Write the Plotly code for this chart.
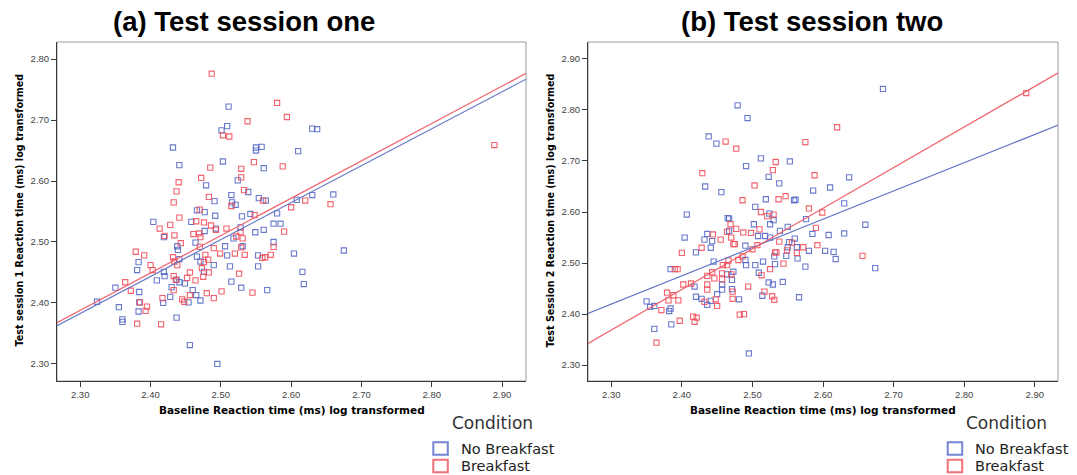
import plotly.graph_objects as go

# ---------------- data ----------------
# Panel (a): Test session one
a_nb_x = [2.511, 2.501, 2.509, 2.432, 2.441, 2.503, 2.479, 2.550, 2.558, 2.550, 2.561, 2.610, 2.524, 2.539,
          2.515, 2.491, 2.516, 2.521, 2.554, 2.564, 2.492, 2.530, 2.542, 2.580, 2.608, 2.404, 2.458, 2.466,
          2.477, 2.575, 2.585, 2.549, 2.561, 2.477, 2.493, 2.528, 2.630, 2.637, 2.630, 2.660,
          2.350, 2.355, 2.360, 2.360, 2.383, 2.381, 2.384, 2.384, 2.383, 2.409, 2.418, 2.419, 2.420, 2.419,
          2.428, 2.430, 2.437, 2.441, 2.438, 2.439, 2.441, 2.437, 2.449, 2.454, 2.456, 2.495, 2.460, 2.465,
          2.471, 2.464, 2.466, 2.471, 2.476, 2.490, 2.506, 2.518, 2.531, 2.515, 2.509, 2.513, 2.529, 2.553,
          2.575, 2.604, 2.675, 2.553, 2.616, 2.618, 2.566, 2.324]
a_nb_y = [2.722, 2.683, 2.690, 2.655, 2.626, 2.632, 2.593, 2.655, 2.656, 2.650, 2.621, 2.649, 2.601, 2.582,
          2.577, 2.567, 2.565, 2.561, 2.572, 2.568, 2.543, 2.542, 2.546, 2.547, 2.569, 2.533, 2.533, 2.552,
          2.549, 2.530, 2.530, 2.516, 2.520, 2.518, 2.522, 2.524, 2.686, 2.685, 2.577, 2.578,
          2.425, 2.393, 2.373, 2.369, 2.467, 2.454, 2.418, 2.401, 2.386, 2.437, 2.400, 2.451, 2.444, 2.508,
          2.410, 2.426, 2.438, 2.434, 2.493, 2.487, 2.472, 2.376, 2.432, 2.401, 2.331, 2.300, 2.421, 2.413,
          2.404, 2.499, 2.476, 2.468, 2.451, 2.462, 2.493, 2.506, 2.493, 2.435, 2.478, 2.460, 2.425, 2.478,
          2.500, 2.481, 2.486, 2.460, 2.451, 2.431, 2.421, 2.402]
a_b_x = [2.487, 2.503, 2.512, 2.538, 2.580, 2.594, 2.485, 2.472, 2.440, 2.437, 2.433, 2.441, 2.470, 2.483,
         2.529, 2.529, 2.547, 2.533, 2.515, 2.548, 2.560, 2.588, 2.600, 2.590, 2.413, 2.428, 2.434, 2.465,
         2.476, 2.461, 2.469, 2.486, 2.493, 2.508, 2.528, 2.889, 2.620, 2.656,
         2.379, 2.391, 2.400, 2.403, 2.364, 2.372, 2.385, 2.395, 2.393, 2.381, 2.415, 2.417, 2.420, 2.432,
         2.434, 2.438, 2.433, 2.436, 2.433, 2.443, 2.445, 2.448, 2.456, 2.456, 2.452, 2.471, 2.470, 2.478,
         2.482, 2.476, 2.473, 2.483, 2.475, 2.464, 2.490, 2.499, 2.520, 2.529, 2.531, 2.526, 2.480, 2.490,
         2.501, 2.522, 2.545, 2.534, 2.559, 2.575, 2.563, 2.571]
a_b_y = [2.776, 2.675, 2.673, 2.698, 2.728, 2.705, 2.622, 2.605, 2.598, 2.583, 2.565, 2.540, 2.553, 2.574,
         2.620, 2.606, 2.631, 2.585, 2.559, 2.544, 2.568, 2.624, 2.557, 2.517, 2.522, 2.528, 2.511, 2.534,
         2.532, 2.513, 2.514, 2.527, 2.520, 2.522, 2.516, 2.659, 2.568, 2.562,
         2.484, 2.478, 2.462, 2.454, 2.434, 2.420, 2.401, 2.394, 2.387, 2.366, 2.365, 2.408, 2.510, 2.475,
         2.468, 2.462, 2.444, 2.438, 2.421, 2.498, 2.406, 2.402, 2.413, 2.450, 2.441, 2.508, 2.492, 2.479,
         2.471, 2.467, 2.457, 2.450, 2.443, 2.437, 2.490, 2.481, 2.481, 2.491, 2.506, 2.448, 2.416, 2.408,
         2.419, 2.509, 2.417, 2.479, 2.474, 2.492, 2.475, 2.479]

# Panel (b): Test session two
b_nb_x = [2.479, 2.493, 2.438, 2.449, 2.491, 2.512, 2.553, 2.523, 2.538, 2.433, 2.456, 2.586, 2.519, 2.559,
          2.561, 2.504, 2.524, 2.530, 2.407, 2.465, 2.467, 2.502, 2.525, 2.550, 2.539, 2.576, 2.585, 2.436,
          2.404, 2.432, 2.467, 2.508, 2.518, 2.560,
          2.685, 2.637, 2.610, 2.630, 2.660, 2.608, 2.630,
          2.350, 2.355, 2.361, 2.361, 2.382, 2.384, 2.385, 2.384, 2.420, 2.418, 2.420, 2.443, 2.441, 2.445,
          2.450, 2.457, 2.457, 2.464, 2.473, 2.471, 2.471, 2.481, 2.495, 2.491, 2.490, 2.490, 2.504, 2.509,
          2.514, 2.515, 2.525, 2.523, 2.529, 2.531, 2.532, 2.543, 2.548, 2.550, 2.552, 2.563, 2.564, 2.566,
          2.575, 2.580, 2.428, 2.436, 2.441,
          2.603, 2.615, 2.618, 2.674]
b_nb_y = [2.809, 2.784, 2.748, 2.734, 2.690, 2.705, 2.699, 2.669, 2.656, 2.650, 2.639, 2.642, 2.625, 2.623,
          2.624, 2.610, 2.597, 2.584, 2.595, 2.588, 2.587, 2.576, 2.576, 2.571, 2.563, 2.586, 2.557, 2.557,
          2.550, 2.546, 2.563, 2.553, 2.553, 2.548,
          2.841, 2.668, 2.648, 2.617, 2.575, 2.555, 2.558,
          2.425, 2.414, 2.416, 2.371, 2.406, 2.411, 2.380, 2.488, 2.521, 2.454, 2.434, 2.543, 2.530, 2.503,
          2.439, 2.458, 2.448, 2.478, 2.483, 2.467, 2.449, 2.429, 2.323, 2.496, 2.506, 2.534, 2.496, 2.481,
          2.436, 2.503, 2.550, 2.462, 2.458, 2.513, 2.498, 2.463, 2.514, 2.531, 2.541, 2.531, 2.509, 2.433,
          2.493, 2.524, 2.430, 2.418, 2.426,
          2.524, 2.522, 2.508, 2.490]
b_b_x = [2.429, 2.462, 2.477, 2.533, 2.529, 2.503, 2.486, 2.537, 2.547, 2.575, 2.588, 2.512, 2.521, 2.530,
         2.580, 2.590, 2.469, 2.510, 2.498, 2.487, 2.477, 2.464, 2.470, 2.444, 2.455,
         2.888, 2.620, 2.599,
         2.364, 2.371, 2.379, 2.381, 2.390, 2.394, 2.388, 2.395, 2.397, 2.400, 2.402, 2.413, 2.416, 2.418,
         2.421, 2.428, 2.432, 2.436, 2.436, 2.436, 2.448, 2.450, 2.443, 2.457, 2.457, 2.458, 2.464, 2.470,
         2.472, 2.472, 2.473, 2.475, 2.482, 2.488, 2.494, 2.500, 2.507, 2.513, 2.517, 2.528, 2.531, 2.525,
         2.532, 2.534, 2.538, 2.544, 2.549, 2.556, 2.563, 2.572, 2.592, 2.480, 2.486, 2.466, 2.446,
         2.656]
b_b_y = [2.676, 2.738, 2.724, 2.698, 2.682, 2.652, 2.623, 2.625, 2.631, 2.737, 2.672, 2.600, 2.592, 2.595,
         2.607, 2.569, 2.576, 2.566, 2.559, 2.560, 2.567, 2.561, 2.550, 2.556, 2.546,
         2.833, 2.766, 2.599,
         2.344, 2.408, 2.442, 2.427, 2.488, 2.488, 2.437, 2.427, 2.387, 2.520, 2.458, 2.460, 2.395, 2.385,
         2.393, 2.530, 2.424, 2.475, 2.458, 2.448, 2.429, 2.416, 2.482, 2.468, 2.480, 2.496, 2.496, 2.478,
         2.444, 2.430, 2.537, 2.537, 2.399, 2.400, 2.454, 2.527, 2.535, 2.476, 2.444, 2.435, 2.428, 2.488,
         2.521, 2.521, 2.542, 2.499, 2.525, 2.540, 2.520, 2.531, 2.535, 2.506, 2.513, 2.505, 2.470,
         2.514]

# Fit lines (values at the left and right ends of the x axis)
fit_x = [2.267, 2.934]
a_fit_nb = [2.3628, 2.767]
a_fit_b = [2.3677, 2.7765]
b_fit_nb = [2.4014, 2.7706]
b_fit_b = [2.3425, 2.873]

x_ticks = [2.30, 2.40, 2.50, 2.60, 2.70, 2.80, 2.90]
a_y_ticks = [2.30, 2.40, 2.50, 2.60, 2.70, 2.80]
b_y_ticks = [2.30, 2.40, 2.50, 2.60, 2.70, 2.80, 2.90]

groups = ["No Breakfast", "Breakfast"]
titles = ["(a) Test session one", "(b) Test session two"]
x_title = "Baseline Reaction time (ms) log transformed"
y_titles = ["Test session 1 Reaction time (ms) log transformed",
            "Test Session 2 Reaction time (ms) log transformed"]
legend_title = "Condition"

# ---------------- styling ----------------
W, H = 1077, 475
BLUE = "#4f63c4"
RED = "#ef4653"
BLUE_LINE = "#6677c6"
RED_LINE = "#f0606b"
BLUE_LEG = "#7585d4"
RED_LEG = "#f2707a"

def px(X):
    return X / W

def py(Y):
    return 1 - Y / H

fig = go.Figure()

panels = [
    dict(xa="x", ya="y", nb=(a_nb_x, a_nb_y), b=(a_b_x, a_b_y), fnb=a_fit_nb, fb=a_fit_b),
    dict(xa="x2", ya="y2", nb=(b_nb_x, b_nb_y), b=(b_b_x, b_b_y), fnb=b_fit_nb, fb=b_fit_b),
]
for p in panels:
    fig.add_trace(go.Scatter(x=p["nb"][0], y=p["nb"][1], mode="markers", name=groups[0],
                             xaxis=p["xa"], yaxis=p["ya"], showlegend=False,
                             marker=dict(symbol="square-open", size=5.2, color=BLUE, opacity=0.85,
                                         line=dict(width=1.1, color=BLUE))))
    fig.add_trace(go.Scatter(x=p["b"][0], y=p["b"][1], mode="markers", name=groups[1],
                             xaxis=p["xa"], yaxis=p["ya"], showlegend=False,
                             marker=dict(symbol="square-open", size=5.2, color=RED, opacity=0.85,
                                         line=dict(width=1.1, color=RED))))
    fig.add_trace(go.Scatter(x=fit_x, y=p["fnb"], mode="lines", xaxis=p["xa"], yaxis=p["ya"],
                             showlegend=False, line=dict(color=BLUE_LINE, width=1.2)))
    fig.add_trace(go.Scatter(x=fit_x, y=p["fb"], mode="lines", xaxis=p["xa"], yaxis=p["ya"],
                             showlegend=False, line=dict(color=RED_LINE, width=1.2)))

tickfont = dict(family="Liberation Sans, Arial", size=9.5, color="#444")
common_axis = dict(showgrid=False, zeroline=False, showline=True, linecolor="#3a3a3a", linewidth=1,
                   ticks="outside", ticklen=5, tickcolor="#3a3a3a", tickfont=tickfont,
                   tickformat=".2f", mirror=False)

x_dom_a = [px(57), px(526)]
x_dom_b = [px(588), px(1058)]
y_dom = [py(381), py(42)]

fig.update_layout(
    width=W, height=H, margin=dict(l=0, r=0, t=0, b=0),
    paper_bgcolor="white", plot_bgcolor="white", showlegend=False,
    xaxis=dict(domain=x_dom_a, range=[2.267, 2.934], tickvals=x_ticks, anchor="y", **common_axis),
    yaxis=dict(domain=y_dom, range=[2.272, 2.828], tickvals=a_y_ticks, anchor="x", **common_axis),
    xaxis2=dict(domain=x_dom_b, range=[2.267, 2.933], tickvals=x_ticks, anchor="y2", **common_axis),
    yaxis2=dict(domain=y_dom, range=[2.269, 2.933], tickvals=b_y_ticks, anchor="x2", **common_axis),
)

shapes = []
annotations = []
for xr, yr in [("x", "y"), ("x2", "y2")]:
    shapes.append(dict(type="rect", xref=f"{xr} domain", yref=f"{yr} domain", x0=0, x1=1, y0=0, y1=1,
                       line=dict(color="#9a9a9a", width=1), layer="below"))

# Titles and axis titles
title_cx = [244, 812]
xt_cx = [291.5, 823.3]
yt_cx = [19, 550]
for i in range(2):
    annotations.append(dict(text=f"<b>{titles[i]}</b>", x=px(title_cx[i]), y=py(22), xref="paper",
                            yref="paper", showarrow=False, xanchor="center", yanchor="middle",
                            font=dict(family="Liberation Sans, Arial", size=27.5, color="#000")))
    annotations.append(dict(text=f"<b>{x_title}</b>", x=px(xt_cx[i]), y=py(410), xref="paper", yref="paper",
                            showarrow=False, xanchor="center", yanchor="middle",
                            font=dict(family="DejaVu Sans", size=10.5, color="#000")))
    annotations.append(dict(text=f"<b>{y_titles[i]}</b>", x=px(yt_cx[i]), y=py(210.5), xref="paper",
                            yref="paper", showarrow=False, xanchor="center", yanchor="middle",
                            textangle=-90, font=dict(family="DejaVu Sans", size=9.6, color="#000")))

# Legends (one per panel)
leg_sq_left = [432.3, 946.7]
for i in range(2):
    sx = leg_sq_left[i]
    annotations.append(dict(text=legend_title, x=px(sx + 17.5), y=py(423), xref="paper", yref="paper",
                            showarrow=False, xanchor="left", yanchor="middle",
                            font=dict(family="DejaVu Sans", size=17, color="#333")))
    for j, (yc, col) in enumerate([(448.5, BLUE_LEG), (466.0, RED_LEG)]):
        shapes.append(dict(type="rect", xref="paper", yref="paper", x0=px(sx + 1), x1=px(sx + 15.5),
                           y0=py(yc + 6.3), y1=py(yc - 6.3), line=dict(color=col, width=2),
                           fillcolor="white"))
        annotations.append(dict(text=groups[j], x=px(sx + 26.5), y=py(yc), xref="paper", yref="paper",
                                showarrow=False, xanchor="left", yanchor="middle",
                                font=dict(family="DejaVu Sans", size=14.5, color="#222")))

fig.update_layout(shapes=shapes, annotations=annotations)
fig.write_html("out.html")
